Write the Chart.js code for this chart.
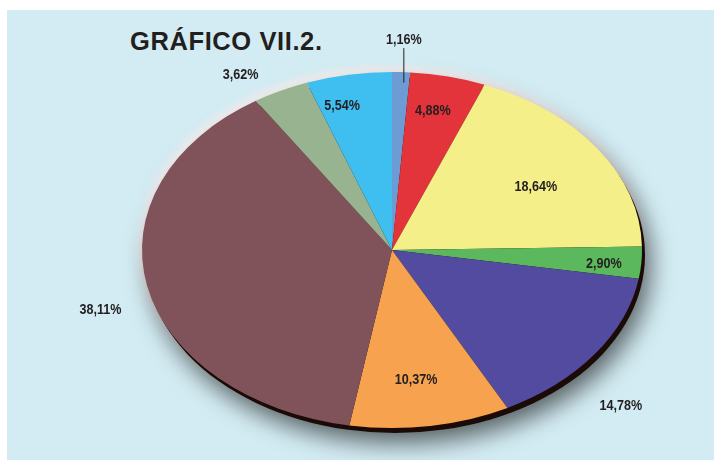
<!DOCTYPE html>
<html lang="es">
<head>
<meta charset="utf-8">
<title>Gráfico VII.2.</title>
<script src="https://cdn.jsdelivr.net/npm/chart.js@4"></script>
<style>
  html, body { margin: 0; padding: 0; background: #fff; }
  #wrap { position: relative; width: 714px; height: 460px; overflow: hidden; }
  #panel { position: absolute; left: 7px; top: 10px; width: 707px; height: 450px; background: #d3ecf3; }
  #title {
    position: absolute; left: 130px; top: 29px; margin: 0;
    font: bold 25.5px "Liberation Sans", Arial, sans-serif; line-height: 25px;
    letter-spacing: 0.6px; color: #231f20;
  }
  #chart { position: absolute; left: 0; top: 0; }
</style>
</head>
<body>
<div id="wrap">
  <div id="panel"></div>
  <h1 id="title">GRÁFICO VII.2.</h1>
  <canvas id="chart" width="714" height="460"></canvas>
</div>
<script>
// shares, clockwise from 12 o'clock
const shares = [1.16, 4.88, 18.64, 2.90, 14.78, 10.37, 38.11, 3.62, 5.54];
const sliceColors = [
  "#6d9bd3", "#e2343a", "#f5ef8a", "#5cb85c", "#524ba0",
  "#f7a24f", "#80525a", "#98b38f", "#3ebff0"
];

// where the tilted pie sits on the page
const pieBox = { cx: 392, cy: 250, rx: 250, ry: 178 };
// label placement, as fractions of the radius along each slice's mid-angle [x, y]
const labelPlace = [
  [1.3, 1.18], [0.73, 0.8], [0.7, 0.62], [0.85, 1.1], [1.13, 1.49],
  [0.63, 0.74], [1.19, 1.68], [1.36, 1.1], [1.15, 0.82]
];
const labelFont = 'bold 15px "Liberation Sans", Arial, sans-serif';
const labelSquash = 0.84; // condensed look of the original labels

function fmt(v) {
  return v.toFixed(2).replace(".", ",") + "%";
}

const tiltPlugin = {
  id: "tilt",
  beforeDatasetsDraw(chart) {
    const ctx = chart.ctx;
    const arc = chart.getDatasetMeta(0).data[0];
    const { cx, cy, rx, ry } = pieBox;

    ctx.save();
    // pale rim on the upper edge
    ctx.save();
    ctx.filter = "blur(3px)";
    ctx.fillStyle = "rgba(245,240,240,0.9)";
    ctx.beginPath();
    ctx.ellipse(cx - 1, cy - 3, rx + 3, ry + 3, 0, 0, Math.PI * 2);
    ctx.fill();
    ctx.restore();
    // dark edge and drop shadow
    ctx.save();
    ctx.shadowColor = "rgba(0,0,0,0.6)";
    ctx.shadowBlur = 24;
    ctx.shadowOffsetX = 5;
    ctx.shadowOffsetY = 10;
    ctx.fillStyle = "#1a0b06";
    ctx.beginPath();
    ctx.ellipse(cx + 3, cy + 5, rx, ry, 0, 0, Math.PI * 2);
    ctx.fill();
    ctx.restore();

    ctx.translate(cx, cy);
    ctx.scale(rx / arc.outerRadius, ry / arc.outerRadius);
    ctx.translate(-arc.x, -arc.y);
  },
  afterDatasetsDraw(chart) {
    const ctx = chart.ctx;
    ctx.restore();
    const { cx, cy, rx, ry } = pieBox;
    const arcs = chart.getDatasetMeta(0).data;

    ctx.save();
    ctx.font = labelFont;
    ctx.fillStyle = "#231f20";
    ctx.textAlign = "center";
    ctx.textBaseline = "middle";
    arcs.forEach((a, i) => {
      const mid = (a.startAngle + a.endAngle) / 2;
      const [fx, fy] = labelPlace[i];
      const x = cx + Math.cos(mid) * rx * fx;
      const y = cy + Math.sin(mid) * ry * fy;
      ctx.save();
      ctx.translate(x, y);
      ctx.scale(labelSquash, 1);
      ctx.fillText(fmt(shares[i]), 0, 0);
      ctx.restore();
      if (i === 0) {
        // leader line for the thin first slice
        ctx.strokeStyle = "#231f20";
        ctx.lineWidth = 1;
        ctx.beginPath();
        ctx.moveTo(x, y + 8);
        ctx.lineTo(x, cy - ry * 0.94);
        ctx.stroke();
      }
    });
    ctx.restore();
  }
};

new Chart(document.getElementById("chart"), {
  type: "pie",
  data: {
    labels: shares.map(fmt),
    datasets: [
      {
        data: shares,
        backgroundColor: sliceColors,
        borderWidth: 0,
        clip: false,
      },
    ],
  },
  options: {
    responsive: false,
    animation: false,
    events: [],
    plugins: {
      legend: { display: false },
      tooltip: { enabled: false },
    },
  },
  plugins: [tiltPlugin],
});
</script>
</body>
</html>
